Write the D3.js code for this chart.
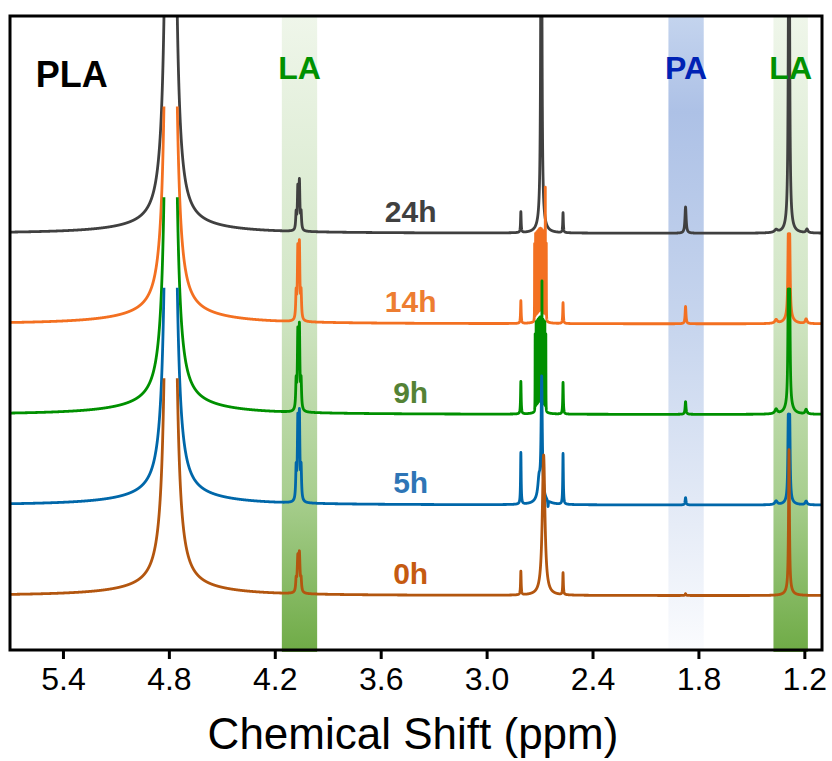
<!DOCTYPE html>
<html>
<head>
<meta charset="utf-8">
<script src="https://cdn.jsdelivr.net/npm/d3@7"></script>
<style>
  body { margin: 0; background: #fff; }
  svg { font-family: "Liberation Sans", Arial, sans-serif; display: block; }
</style>
</head>
<body>
<div id="nmr"></div>
<script>
// Sample times, top trace first, and their stacking offsets
let samples = ['24h', '14h', '9h', '5h', '0h'];
let stackOffsets = [4, 3, 2, 1, 0];
let traceColors = ['#404040', '#f37021', '#009000', '#0067a9', '#b3560f'];
let labelColors = ['#404040', '#ed7d31', '#548235', '#2e75b6', '#c55a11'];
let ppmTicks = [5.4, 4.8, 4.2, 3.6, 3.0, 2.4, 1.8, 1.2];

// Peak lists: [shift (ppm), height, half width (ppm)]
let peaks24h = [
    [4.79, 35, 0.01], [4.79, 0.10, 0.3],
    [4.0605, 0.52, 0.003], [4.0695, 0.45, 0.003], [4.051, 0.18, 0.003], [4.079, 0.18, 0.003],
    [2.806, 0.23, 0.002], [2.690, 6, 0.003], [2.690, 0.12, 0.02], [2.567, 0.22, 0.002],
    [1.873, 0.29, 0.004],
    [1.36, 0.03, 0.01], [1.287, 6, 0.003], [1.287, 0.08, 0.02], [1.185, 0.04, 0.006]
];
let peaks14h = [
    [4.79, 35, 0.01], [4.79, 0.12, 0.3],
    [4.0605, 0.80, 0.003], [4.0695, 0.75, 0.003], [4.051, 0.28, 0.003], [4.079, 0.28, 0.003],
    [2.806, 0.25, 0.002],
    [2.728, 0.85, 0.0005], [2.7225, 0.95, 0.0005], [2.717, 0.95, 0.0005], [2.7115, 0.95, 0.0005],
    [2.706, 0.95, 0.0005], [2.7005, 0.95, 0.0005], [2.695, 0.95, 0.0005], [2.6895, 0.95, 0.0005],
    [2.684, 0.95, 0.0005], [2.6785, 0.95, 0.0005], [2.673, 0.95, 0.0005], [2.6675, 1.46, 0.0005],
    [2.662, 0.85, 0.0005], [2.695, 0.08, 0.02],
    [2.567, 0.23, 0.002],
    [1.873, 0.19, 0.003],
    [1.36, 0.04, 0.008], [1.291, 0.8, 0.003], [1.283, 0.8, 0.003], [1.287, 0.10, 0.02], [1.19, 0.05, 0.006]
];
let peaks9h = [
    [4.79, 35, 0.01], [4.79, 0.12, 0.3],
    [4.0605, 0.88, 0.003], [4.0695, 0.82, 0.003], [4.051, 0.3, 0.003], [4.079, 0.3, 0.003],
    [2.806, 0.36, 0.002],
    [2.725, 0.85, 0.0005], [2.7195, 0.97, 0.0005], [2.714, 0.97, 0.0005], [2.7085, 0.97, 0.0005],
    [2.703, 0.97, 0.0005], [2.6975, 0.97, 0.0005], [2.692, 0.97, 0.0005], [2.6865, 1.38, 0.0005],
    [2.681, 0.97, 0.0005], [2.6755, 0.97, 0.0005], [2.670, 0.97, 0.0005], [2.6645, 0.85, 0.0005],
    [2.695, 0.08, 0.02],
    [2.567, 0.35, 0.002],
    [1.873, 0.14, 0.003],
    [1.36, 0.05, 0.008], [1.291, 1.13, 0.003], [1.283, 1.13, 0.003], [1.287, 0.12, 0.02], [1.19, 0.05, 0.006]
];
let peaks5h = [
    [4.79, 35, 0.01], [4.79, 0.11, 0.3],
    [4.0605, 0.92, 0.003], [4.0695, 0.86, 0.003], [4.051, 0.34, 0.003], [4.079, 0.34, 0.003],
    [2.806, 0.57, 0.002], [2.703, 0.2, 0.008], [2.688, 1.3, 0.004], [2.690, 0.08, 0.03],
    [2.652, -0.07, 0.002], [2.567, 0.56, 0.002],
    [1.873, 0.08, 0.003],
    [1.36, 0.04, 0.008], [1.291, 0.85, 0.003], [1.283, 0.85, 0.003], [1.287, 0.05, 0.02], [1.19, 0.04, 0.006]
];
let peaks0h = [
    [4.79, 35, 0.01], [4.79, 0.10, 0.3],
    [4.0605, 0.40, 0.004], [4.0695, 0.36, 0.004], [4.051, 0.12, 0.003], [4.079, 0.12, 0.003],
    [2.806, 0.26, 0.002], [2.677, 1.55, 0.009], [2.567, 0.24, 0.002],
    [1.873, 0.02, 0.003],
    [1.287, 1.55, 0.003], [1.287, 0.06, 0.02]
];
let peakLists = [peaks24h, peaks14h, peaks9h, peaks5h, peaks0h];

// Shaded regions: [from ppm, to ppm, label, gradient]
let bands = [[4.16, 3.96, 'LA', 'laGrad'], [1.97, 1.77, 'PA', 'paGrad'], [1.375, 1.18, 'LA', 'laGrad']];
let bandLabelColors = { LA: '#009100', PA: '#0022b4' };

// Svg and plot area
let svgWidth = 832;
let svgHeight = 761;
let margins = { top: 16, bottom: 111, left: 10, right: 10 };
let plotWidth = svgWidth - margins.left - margins.right;
let plotHeight = svgHeight - margins.top - margins.bottom;
let clipLevel = 2.4;   // traces are cut this far above their baseline

let svg = d3.select('#nmr').append('svg')
    .attr('width', svgWidth)
    .attr('height', svgHeight);
let chart = svg.append('g')
    .attr('transform', `translate(${margins.left}, ${margins.top})`);

let xScale = d3.scaleLinear().domain([5.7, 1.1]).range([0, plotWidth]);
let yScale = d3.scaleLinear().domain([-0.6, 4 + clipLevel]).range([plotHeight, 0]);

// Gradients for the shaded bands
let defs = svg.append('defs');
let laGrad = defs.append('linearGradient').attr('id', 'laGrad')
    .attr('x1', 0).attr('y1', 0).attr('x2', 0).attr('y2', 1);
[[0, '#eff6ea'], [0.45, '#d2e6c6'], [0.75, '#a9cf90'], [1, '#6fab46']].forEach(s =>
    laGrad.append('stop').attr('offset', s[0]).attr('stop-color', s[1]));
let paGrad = defs.append('linearGradient').attr('id', 'paGrad')
    .attr('x1', 0).attr('y1', 0).attr('x2', 0).attr('y2', 1);
[[0, '#c4d4ee'], [0.15, '#adc1e6'], [0.5, '#c8d6ee'], [0.8, '#e6ecf7'], [1, '#fbfcfe']].forEach(s =>
    paGrad.append('stop').attr('offset', s[0]).attr('stop-color', s[1]));

chart.selectAll('rect.band')
    .data(bands).enter()
    .append('rect')
    .attr('class', 'band')
    .attr('x', d => xScale(d[0]))
    .attr('width', d => xScale(d[1]) - xScale(d[0]))
    .attr('y', 0)
    .attr('height', plotHeight + 2)
    .style('fill', d => `url(#${d[3]})`);

// Build each spectrum from its peak list (Lorentzian lines)
let grid = d3.range(5.7, 1.1 - 1e-9, -0.00025);
function spectrum(peaks) {
    return grid.map(p => [p, d3.sum(peaks, k => k[1] * k[2] * k[2] / (k[2] * k[2] + (p - k[0]) * (p - k[0])))]);
}

samples.forEach((name, i) => {
    let offset = stackOffsets[i];
    defs.append('clipPath').attr('id', `clip${i}`)
        .append('rect')
        .attr('x', 0)
        .attr('y', yScale(offset + clipLevel))
        .attr('width', plotWidth)
        .attr('height', yScale(-0.6) - yScale(offset + clipLevel));
    let line = d3.line()
        .x(d => xScale(d[0]))
        .y(d => yScale(d[1] + offset));
    chart.append('path')
        .datum(spectrum(peakLists[i]))
        .attr('clip-path', `url(#clip${i})`)
        .attr('d', line)
        .style('fill', 'none')
        .style('stroke', traceColors[i])
        .style('stroke-width', 2.8)
        .style('stroke-linejoin', 'round');
});

// Frame
chart.append('rect')
    .attr('x', 0).attr('y', 0)
    .attr('width', plotWidth).attr('height', plotHeight)
    .style('fill', 'none')
    .style('stroke', '#000')
    .style('stroke-width', 3);

// Bottom axis
let xAxis = d3.axisBottom(xScale)
    .tickValues(ppmTicks)
    .tickSize(9)
    .tickPadding(8)
    .tickFormat(d3.format('.1f'));
let axisG = chart.append('g')
    .attr('transform', `translate(0, ${plotHeight})`)
    .call(xAxis);
axisG.select('.domain').remove();
axisG.selectAll('line').style('stroke', '#000').style('stroke-width', 3);
axisG.selectAll('text')
    .style('font-family', '"Liberation Sans", Arial, sans-serif')
    .style('font-size', '32px')
    .style('fill', '#000');

// Axis label
chart.append('text')
    .attr('x', plotWidth / 2 - 3)
    .attr('y', plotHeight + 99)
    .attr('text-anchor', 'middle')
    .style('font-size', '44px')
    .text('Chemical Shift (ppm)');

// Band labels and sample labels
chart.selectAll('text.bandLabel')
    .data(bands).enter()
    .append('text')
    .attr('class', 'bandLabel')
    .attr('x', d => xScale((d[0] + d[1]) / 2))
    .attr('y', 63)
    .attr('text-anchor', 'middle')
    .style('font-size', '32px')
    .style('font-weight', 'bold')
    .style('fill', d => bandLabelColors[d[2]])
    .text(d => d[2]);

chart.append('text')
    .attr('x', xScale(5.35))
    .attr('y', 71)
    .attr('text-anchor', 'middle')
    .style('font-size', '36px')
    .style('font-weight', 'bold')
    .style('fill', '#000')
    .text('PLA');

chart.selectAll('text.sampleLabel')
    .data(samples).enter()
    .append('text')
    .attr('class', 'sampleLabel')
    .attr('x', xScale(3.43))
    .attr('y', (d, i) => yScale(stackOffsets[i] + 0.13))
    .attr('text-anchor', 'middle')
    .style('font-size', '30px')
    .style('font-weight', 'bold')
    .style('fill', (d, i) => labelColors[i])
    .text(d => d);
</script>
</body>
</html>
